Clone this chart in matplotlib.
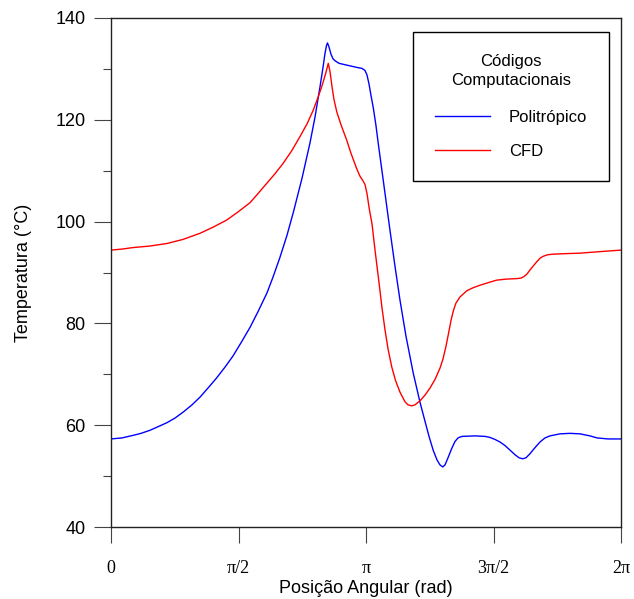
import numpy as np
import matplotlib
matplotlib.use("Agg")
import matplotlib.pyplot as plt
from matplotlib.ticker import MultipleLocator

plt.rcParams['font.family'] = ['Liberation Sans', 'DejaVu Sans']

# --- data (angle in rad, temperature in °C) ---
theta_poli = [0.000, 0.136, 0.271, 0.370, 0.480, 0.579, 0.690, 0.788, 0.891, 0.998,
              1.096, 1.195, 1.302, 1.404, 1.503, 1.602, 1.712, 1.811, 1.922, 1.996,
              2.082, 2.168, 2.246, 2.353, 2.452, 2.513, 2.575, 2.612, 2.636, 2.655,
              2.667, 2.686, 2.710, 2.735, 2.760, 2.809, 2.862, 2.944, 3.027, 3.092,
              3.129, 3.154, 3.179, 3.203, 3.232, 3.265, 3.293, 3.355, 3.437, 3.499,
              3.560, 3.634, 3.724, 3.807, 3.868, 3.918, 3.971, 4.016, 4.053, 4.087,
              4.115, 4.152, 4.197, 4.238, 4.275, 4.324, 4.484, 4.608, 4.669, 4.731,
              4.792, 4.854, 4.916, 4.977, 5.027, 5.072, 5.113, 5.162, 5.224, 5.285,
              5.347, 5.408, 5.532, 5.655, 5.778, 5.901, 5.988, 6.123, 6.283]
temp_poli = [57.3, 57.5, 58.0, 58.4, 59.0, 59.7, 60.5, 61.4, 62.6, 64.0,
             65.5, 67.3, 69.3, 71.4, 73.6, 76.2, 79.2, 82.3, 86.0, 89.1,
             93.0, 97.3, 101.8, 108.5, 115.5, 120.5, 126.5, 130.3, 133.0, 134.6,
             135.1, 134.3, 132.9, 132.0, 131.6, 131.1, 130.9, 130.6, 130.3, 130.1,
             129.7, 128.8, 127.0, 124.8, 122.3, 118.8, 115.3, 108.0, 98.3, 91.2,
             84.6, 77.5, 70.2, 64.5, 60.8, 57.8, 55.0, 53.2, 52.2, 51.8,
             52.2, 53.6, 55.4, 56.8, 57.5, 57.8, 57.9, 57.8, 57.6, 57.2,
             56.7, 56.0, 55.1, 54.2, 53.6, 53.4, 53.6, 54.4, 55.6, 56.7,
             57.5, 57.9, 58.3, 58.4, 58.3, 57.9, 57.5, 57.3, 57.3]

theta_cfd = [0.000, 0.136, 0.271, 0.480, 0.690, 0.887, 1.096, 1.257, 1.425, 1.565,
             1.712, 1.811, 1.918, 2.020, 2.123, 2.230, 2.328, 2.415, 2.492, 2.550,
             2.596, 2.643, 2.677, 2.698, 2.723, 2.747, 2.781, 2.834, 2.904, 2.957,
             3.027, 3.068, 3.105, 3.129, 3.154, 3.179, 3.216, 3.252, 3.302, 3.339,
             3.376, 3.413, 3.458, 3.505, 3.560, 3.622, 3.659, 3.705, 3.745, 3.807,
             3.868, 3.930, 3.992, 4.053, 4.090, 4.127, 4.158, 4.189, 4.220, 4.250,
             4.300, 4.382, 4.460, 4.546, 4.645, 4.752, 4.866, 4.998, 5.051, 5.088,
             5.125, 5.162, 5.203, 5.245, 5.285, 5.326, 5.384, 5.449, 5.593, 5.778,
             6.024, 6.283]
temp_cfd = [94.4, 94.6, 94.9, 95.2, 95.7, 96.5, 97.7, 98.9, 100.3, 101.9,
            103.7, 105.5, 107.5, 109.4, 111.5, 114.0, 116.7, 119.2, 121.9, 124.4,
            126.5, 129.0, 131.1, 129.5, 126.5, 124.0, 121.6, 119.0, 116.0, 113.4,
            110.4, 108.9, 108.0, 107.3, 105.5, 102.8, 99.5, 94.5, 88.0, 83.0,
            78.7, 75.0, 71.5, 68.8, 66.5, 64.6, 64.0, 63.8, 64.0, 64.8,
            65.9, 67.3, 69.0, 71.2, 73.0, 75.5, 78.0, 80.6, 82.6, 84.0,
            85.2, 86.4, 87.0, 87.5, 88.0, 88.5, 88.7, 88.8, 88.9, 89.2,
            89.7, 90.5, 91.3, 92.1, 92.8, 93.2, 93.5, 93.6, 93.7, 93.8,
            94.1, 94.4]

xticks = [0, np.pi / 2, np.pi, 3 * np.pi / 2, 2 * np.pi]
xtick_labels = ['0', 'π/2', 'π', '3π/2', '2π']
series_names = ['Politrópico', 'CFD']
legend_title = 'Códigos\nComputacionais'

fig = plt.figure(figsize=(6.34, 5.99), dpi=100)
ax = fig.add_axes([111 / 634, 1 - 527 / 599, 510 / 634, 509 / 599])

ax.plot(theta_poli, temp_poli, color='#0000ff', lw=1.0, label=series_names[0])
ax.plot(theta_cfd, temp_cfd, color='#ff0000', lw=1.0, label=series_names[1])

ax.set_xlim(0, 2 * np.pi)
ax.set_ylim(40, 140)

ax.set_xticks(xticks)
ax.set_xticklabels(xtick_labels, family=['Liberation Serif', 'DejaVu Serif'], fontsize=13)
ax.tick_params(axis='x', direction='out', length=11.5, width=0.8, pad=12, color='#444444')

ax.yaxis.set_major_locator(MultipleLocator(20))
ax.yaxis.set_minor_locator(MultipleLocator(10))
ax.tick_params(axis='y', which='major', direction='out', length=12.2, width=0.8, pad=6, labelsize=13, color='#444444')
ax.tick_params(axis='y', which='minor', direction='out', length=6.0, width=0.8, color='#444444')

for s in ax.spines.values():
    s.set_linewidth(1.0)
    s.set_color('#222222')

ax.set_xlabel('Posição Angular (rad)', fontsize=13, labelpad=2.5)
ax.set_ylabel('Temperatura (°C)', fontsize=13, labelpad=17)

leg = ax.legend(title=legend_title, loc='upper right', bbox_to_anchor=(609 / 634, 1 - 32 / 599),
                bbox_transform=fig.transFigure, fontsize=12, title_fontsize=12,
                frameon=True, fancybox=False, edgecolor='black', framealpha=1,
                borderpad=1.3, handlelength=3.3, handletextpad=1.15, labelspacing=1.15,
                borderaxespad=0)
leg.get_frame().set_linewidth(1.0)
leg.get_title().set_multialignment('center')
leg.get_title().set_linespacing(1.35)
leg._legend_box.sep = 16

fig.savefig('out.png', dpi=100)
